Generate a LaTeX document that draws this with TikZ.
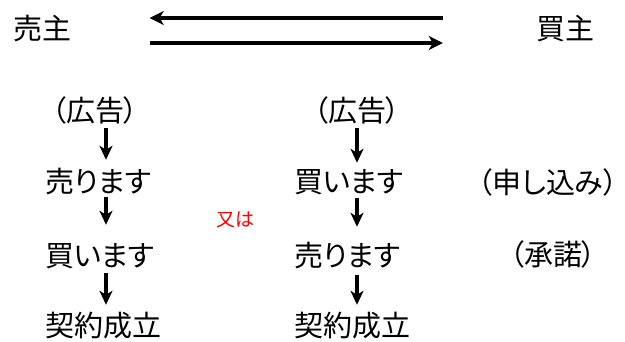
\documentclass[tikz,border=0pt]{standalone}
\usepackage{fontspec}
\setmainfont{Noto Sans CJK JP}[RawFeature=+palt]
\usetikzlibrary{arrows.meta}
\tikzset{
  txt/.style={inner sep=0pt, anchor=base, text height=25pt, text depth=4pt, font=\fontsize{29pt}{30pt}\selectfont},
  ltxt/.style={txt, anchor=base west},
  redtxt/.style={inner sep=0pt, anchor=base, text=red, font=\fontsize{19pt}{20pt}\selectfont},
  harr/.style={line width=3.2pt, -{Stealth[length=14pt,width=14pt,inset=4pt]}},
  varr/.style={line width=3.2pt, -{Stealth[length=14pt,width=13pt,inset=4pt]}}
}
\begin{document}
\begin{tikzpicture}[x=1pt,y=-1pt]
\useasboundingbox (0,0) rectangle (625,342);
% top parties
\node[txt] (seller) at (42.5,40) {売主};
\node[txt] (buyer) at (565,40) {買主};
\coordinate (ht) at (0,18);
\coordinate (hb) at (0,43);
\draw[harr, shorten <=93pt, shorten >=78pt] (buyer.west |- ht) -- (seller.east |- ht);
\draw[harr, shorten <=78pt, shorten >=93pt] (seller.east |- hb) -- (buyer.west |- hb);
% columns
\coordinate (cl) at (106,0);
\coordinate (cr) at (357,0);
% left column
\node[txt] (l0) at (95,122) {（広告）};
\node[ltxt] (l1) at (45,193) {売ります};
\node[ltxt] (l2) at (45,267) {買います};
\node[ltxt] (l3) at (45,337) {契約成立};
\draw[varr, shorten <=2pt, shorten >=8pt] (l0.south -| cl) -- (l1.north -| cl);
\draw[varr, shorten <=0pt, shorten >=17pt] (l1.south -| cl) -- (l2.north -| cl);
\draw[varr, shorten <=2pt, shorten >=7pt] (l2.south -| cl) -- (l3.north -| cl);
% middle
\node[redtxt] (or) at (235,227) {又は};
% right column
\node[txt] (r0) at (357,122) {（広告）};
\node[ltxt] (r1) at (294,193) {買います};
\node[ltxt] (r2) at (294,267) {売ります};
\node[ltxt] (r3) at (294,337) {契約成立};
\draw[varr, shorten <=2pt, shorten >=5pt] (r0.south -| cr) -- (r1.north -| cr);
\draw[varr, shorten <=1pt, shorten >=15pt] (r1.south -| cr) -- (r2.north -| cr);
\draw[varr, shorten <=4pt, shorten >=7pt] (r2.south -| cr) -- (r3.north -| cr);
% annotations
\node[txt] (offer) at (548,194) {（申し込み）};
\node[txt] (accept) at (553,266) {（承諾）};
\end{tikzpicture}
\end{document}
